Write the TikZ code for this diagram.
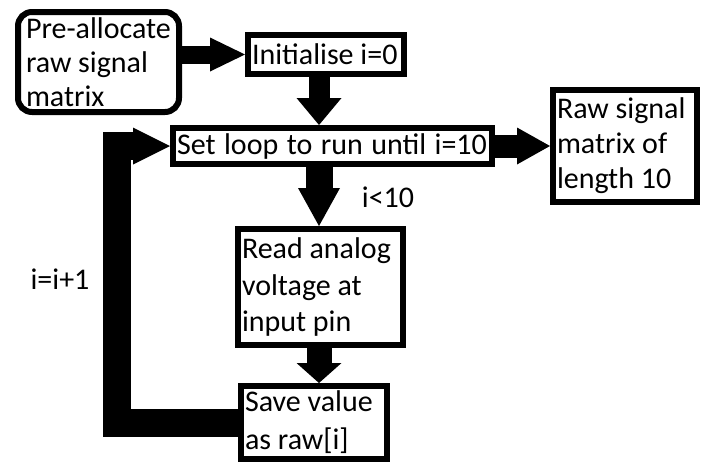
\documentclass[tikz,border=0pt]{standalone}
\usepackage{fontspec}
\setmainfont{Carlito}
\usetikzlibrary{arrows.meta}
% one unbroken line, with the font's own interword space
\newcommand{\wholeline}[1]{\mbox{\spaceskip=0pt\xspaceskip=0pt\relax #1}}
% one unbroken line with slightly wider word gaps
\newcommand{\wideline}[1]{\mbox{\spaceskip=8.5pt\xspaceskip=8.5pt\relax #1}}
\newcommand{\boxfont}[1]{\fontsize{30}{#1}\selectfont}
\begin{document}
\begin{tikzpicture}[x=1pt,y=-1pt,
  txt/.style={font=\boxfont{35pt}},
  box/.style={txt,draw,line width=6pt,rectangle,align=left,inner xsep=4pt,inner ysep=0pt},
  flow/.style n args={3}{line width=#1,-{Triangle[length=#2,width=#3,line width=0pt]}}]
\useasboundingbox (0,0) rectangle (704,463);
\fill[white] (0,0) rectangle (704,463);

% process boxes
\node[box,rounded corners=14pt,inner xsep=8pt,text width=145pt,minimum height=100pt,
  font=\boxfont{34pt}] (A) at (98.5,62)
  {\wholeline{Pre-allocate}\\\wholeline{raw signal}\\\wholeline{matrix}};
\node[box,text width=148pt,minimum height=39pt] (B) at (326,54.5) {\wholeline{Initialise i=0}};
\node[box,text width=311pt,minimum height=36pt] (C) at (332.5,146) {\wideline{Set loop to run until i=10}};
\node[box,text width=136pt,minimum height=112pt] (D) at (625,146)
  {\wholeline{Raw signal}\\\wholeline{matrix of}\\\wholeline{length 10}};
\node[box,text width=157pt,minimum height=116pt,font=\boxfont{36.5pt}] (E) at (320.5,287)
  {\wholeline{Read analog}\\\wholeline{voltage at}\\\wholeline{input pin}};
\node[box,text width=138pt,minimum height=73pt,font=\boxfont{38pt}] (F) at (314,422.5)
  {\wholeline{Save value}\\\wholeline{as raw[i]}};

% labels
\node[txt] (lt) at (388,197) {i<10};
\node[txt] (li) at (60,279) {i=i+1};

% guide coordinates for the vertical arrows and the loop
\coordinate (ax) at (319,0);
\coordinate (lp) at (117,0);

% connectors
\draw[flow={18pt}{35pt}{34pt}] (B.west -| A.east) -- (B.west);
\draw[flow={21pt}{27pt}{45pt}] (B.south -| ax) -- (C.north -| ax);
\draw[flow={23pt}{33pt}{37pt}] (C.east) -- (D.west |- C.east);
\draw[flow={27pt}{38pt}{42pt}] (C.south -| ax) -- (E.north -| ax);
\draw[flow={25pt}{20pt}{45pt}] (E.south -| ax) -- (F.north -| ax);
\draw[flow={28pt}{37pt}{37pt},line join=miter] (F.west) -| (lp |- C.west) -- (C.west);
\end{tikzpicture}
\end{document}
